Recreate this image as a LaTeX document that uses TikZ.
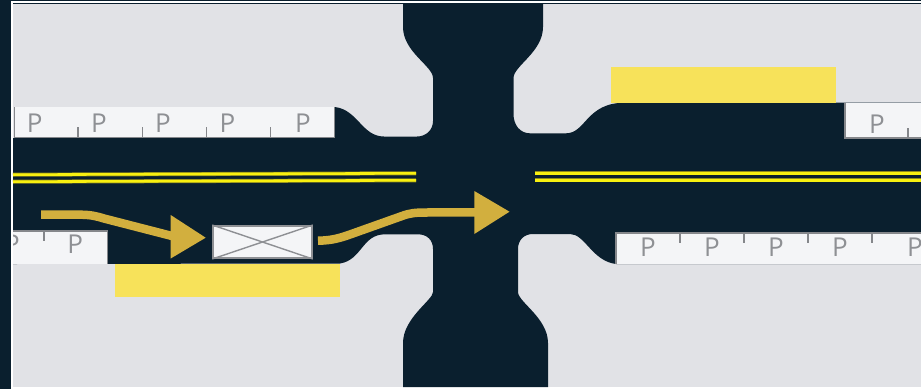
\documentclass[tikz,border=0pt]{standalone}
\usepackage{fontspec}
\setmainfont{Open Sans}
\definecolor{roaddark}{HTML}{0A1F2E}
\definecolor{groundgray}{HTML}{E1E2E6}
\definecolor{stripwhite}{HTML}{F4F5F7}
\definecolor{edgegray}{HTML}{85878B}
\definecolor{labelgray}{HTML}{8E9094}
\definecolor{lineyellow}{HTML}{F8F010}
\definecolor{lineolive}{HTML}{8F8A1E}
\definecolor{zoneyellow}{HTML}{F7E25A}
\definecolor{arrowgold}{HTML}{D2AF3E}
\tikzset{
  parklabel/.style={text=labelgray, font=\fontsize{26}{26}\selectfont, inner sep=0pt},
  parkedge/.style={edgegray, line width=1.2pt},
  centerline/.style={draw=lineolive, double=lineyellow, line width=0.7pt, double distance=2.6pt},
  flowline/.style={arrowgold, line width=8.5pt},
  flowhead/.style={fill=arrowgold},
  carbox/.style={draw=labelgray, fill=stripwhite, line width=2pt, minimum width=98.5pt, minimum height=32pt, inner sep=0pt}
}
\begin{document}
\begin{tikzpicture}[x=1pt,y=-1pt]
  \useasboundingbox (0,0) rectangle (921,389);
  % Frame and ground
  \fill[roaddark] (0,0) rectangle (921,389);
  \fill[white] (11,1) rectangle (921,389);
  \fill[roaddark] (13,3) rectangle (921,4);
  \fill[groundgray] (13,4) rectangle (921,387);
  % Road
  \fill[roaddark] (13,138) -- (13,264) -- (340,263.5)
    .. controls (362,260) and (362,234.3) .. (385,234.3) -- (418,234.3)
    .. controls (427,234.3) and (433,240) .. (433,249) -- (433,292)
    .. controls (433,300) and (403,318) .. (403,343) -- (403,387) -- (548,387) -- (548,343)
    .. controls (548,318) and (518,302) .. (518,292) -- (518,249)
    .. controls (518,240) and (524,234) .. (533,234) -- (570,234)
    .. controls (585,234) and (592,261) .. (616,264) -- (921,264) -- (921,102.7) -- (625,102.7)
    .. controls (586,102.7) and (586,133.3) .. (566,133.3) -- (530,133.3)
    .. controls (520,133.3) and (513.5,125) .. (513.5,114) -- (513.5,78)
    .. controls (513.5,66) and (543,52) .. (543,27) -- (543,4) -- (403,4) -- (403,27)
    .. controls (403,52) and (433,66) .. (433,78) -- (433,121)
    .. controls (433,130) and (426,136.5) .. (417,136.5) -- (384,136.5)
    .. controls (362,136.5) and (358,110) .. (335,107) -- (335,138) -- cycle;
  % Loading zones
  \fill[zoneyellow] (115,264) rectangle (340,297);
  \fill[zoneyellow] (611,67.3) rectangle (836,102.5);
  % Parking upper left
  \fill[stripwhite] (14,107) rectangle (334.5,138);
  \draw[parkedge] (14.5,107) -- (14.5,137.7) -- (334.5,137.7) -- (334.5,107);
  \foreach \xpos in {78,142.5,206.5,270.7} {\draw[parkedge] (\xpos,127.3) -- (\xpos,138);}
  \foreach \xpos/\nm in {34.7/a,99/b,163/c,227.5/d,303/e} {\node[parklabel] (pa\nm) at (\xpos,123.5) {P};}
  % Parking lower left
  \begin{scope}
    \clip (13,225) rectangle (110,270);
    \fill[stripwhite] (13,231) rectangle (107.5,264);
    \draw[parkedge] (13,231) -- (107.5,231) -- (107.5,264);
    \draw[parkedge] (44,231) -- (44,241);
    \node[parklabel] (pfa) at (12,244) {P};
    \node[parklabel] (pfb) at (75.2,244) {P};
  \end{scope}
  % Parking lower right
  \begin{scope}
    \clip (610,225) rectangle (921,270);
    \fill[stripwhite] (616,233) rectangle (921,264);
    \draw[parkedge] (921,233) -- (616,233) -- (616,264);
    \foreach \xpos in {680,744,808,872} {\draw[parkedge] (\xpos,233) -- (\xpos,243);}
    \foreach \xpos/\nm in {648/a,712/b,776/c,840/d,915/e} {\node[parklabel] (pr\nm) at (\xpos,247) {P};}
  \end{scope}
  % Parking upper right
  \begin{scope}
    \clip (840,100) rectangle (921,145);
    \fill[stripwhite] (845,103) rectangle (921,138);
    \draw[parkedge] (845,103) -- (845,138) -- (921,138);
    \draw[parkedge] (908,128) -- (908,138);
    \node[parklabel] (pu) at (877,124.5) {P};
  \end{scope}
  % Center lines
  \draw[centerline] (13,174.7) -- (416,173.3);
  \draw[centerline] (13,181.7) -- (416,180.3);
  \draw[centerline] (535,173.3) -- (921,173.3);
  \draw[centerline] (535,180.3) -- (921,180.3);
  % Car and flow arrows
  \node[carbox] (car) at (262.5,242) {};
  \draw[labelgray, line width=1.4pt] (car.north west) -- (car.south east);
  \draw[labelgray, line width=1.4pt] (car.south west) -- (car.north east);
  \coordinate (flowa) at (41,214.7);
  \coordinate (flowb) at (205.7,237.7);
  \coordinate (flowc) at (318,240.7);
  \coordinate (flowd) at (509.5,211.7);
  \draw[flowline] (flowa) -- (80,214.7) .. controls (90,214.7) and (96,216) .. (104,218.5) -- (172,236);
  \fill[flowhead] (flowb) -- (170.7,215) -- (170.7,258.5) -- cycle;
  \draw[flowline] (flowc) .. controls (332,240.5) and (340,238) .. (350,234.5) -- (402,216) .. controls (410,213) and (416,212.5) .. (426,212.5) -- (476,212.3);
  \fill[flowhead] (flowd) -- (474.3,191) -- (474.3,234) -- cycle;
\end{tikzpicture}
\end{document}
